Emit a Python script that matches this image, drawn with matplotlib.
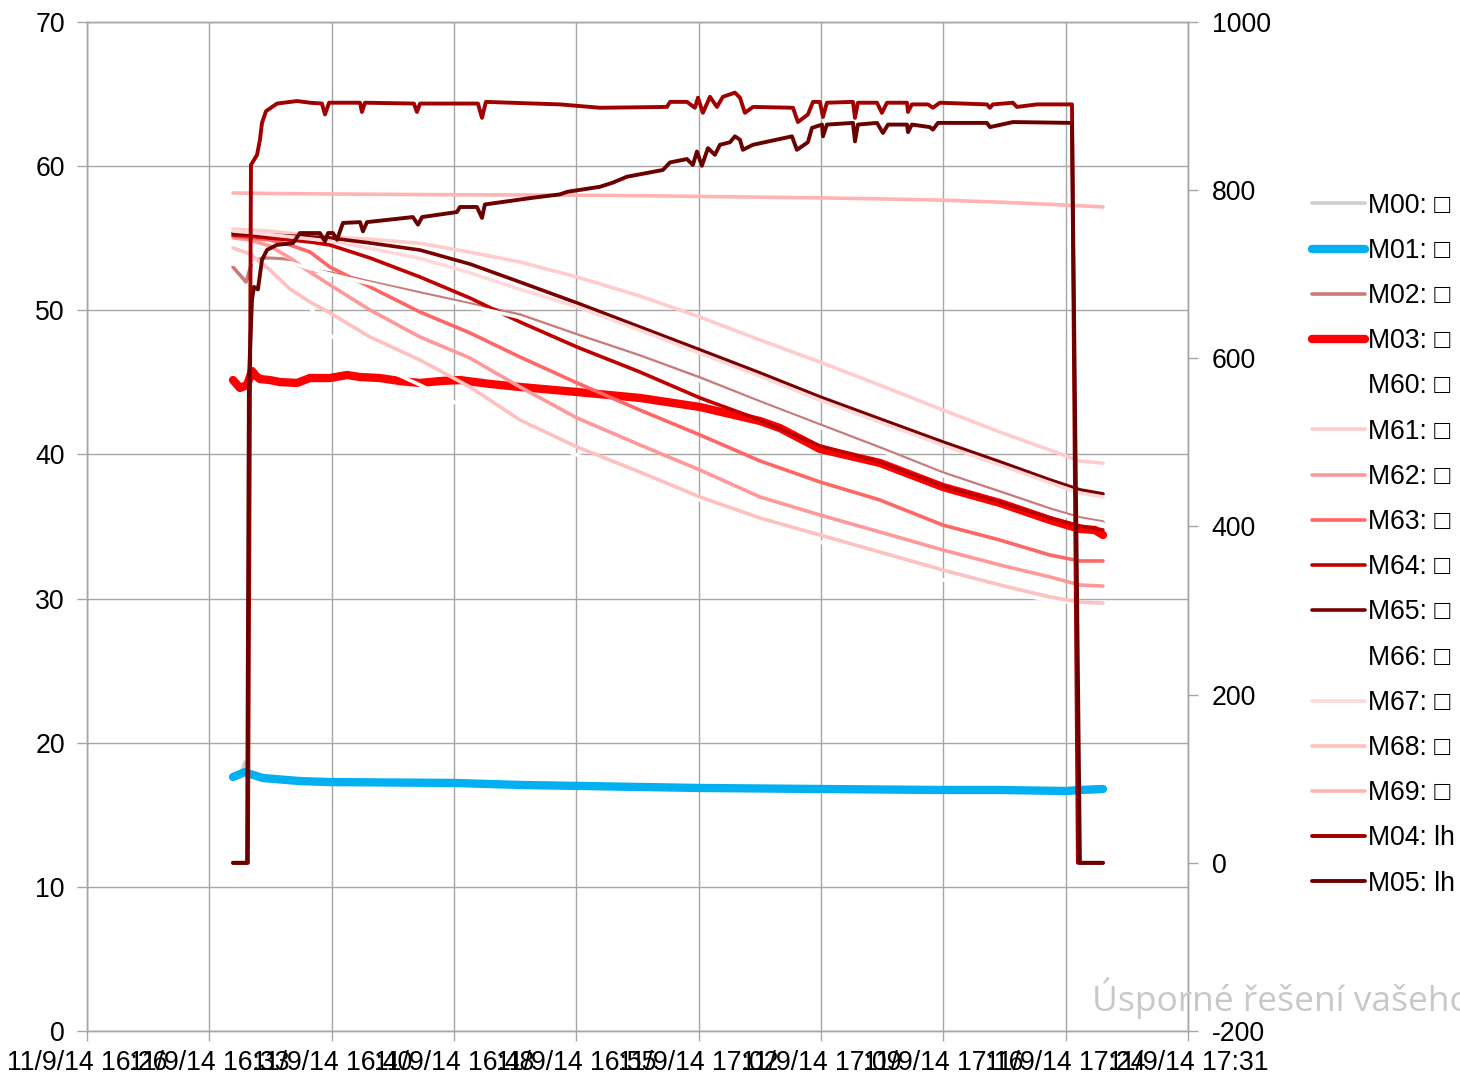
import numpy as np
import matplotlib
matplotlib.use("Agg")
import matplotlib.pyplot as plt

plt.rcParams['font.family'] = ['Liberation Sans', 'DejaVu Sans']
plt.rcParams['axes.unicode_minus'] = False

# osa x: minuty od 11/9/14 16:26
tick_labels = ["11/9/14 16:26", "11/9/14 16:33", "11/9/14 16:40", "11/9/14 16:48",
               "11/9/14 16:55", "11/9/14 17:02", "11/9/14 17:09", "11/9/14 17:16",
               "11/9/14 17:24", "11/9/14 17:31"]

# spolecna casova osa pro vetsinu teplot
t_base = [8.62, 9.62, 10.80, 11.98, 13.16, 14.34, 16.71, 19.66, 22.61, 25.56, 28.93,
          32.64, 36.19, 39.73, 43.27, 46.81, 50.53, 53.90, 56.85, 58.62, 59.98]

# M00 a M01 (levá osa)
t_m00 = [8.62, 9.03, 9.33, 9.62, 10.39, 14.34, 36.19, 59.98]
m00 = [17.6, 17.7, 18.66, 17.8, 17.5, 17.2, 16.8, 16.7]

t_m01 = [8.62, 9.33, 9.62, 10.39, 12.57, 14.34, 21.61, 25.56, 36.19, 43.27, 50.53,
         53.90, 57.79, 58.62, 59.98]
m01 = [17.62, 17.97, 17.83, 17.55, 17.34, 17.27, 17.21, 17.07, 16.86, 16.79, 16.72,
       16.72, 16.65, 16.72, 16.79]

t_m02 = [8.62, 9.39, 9.74, 10.39, 11.57, 13.16, 14.34, 16.71, 19.66, 22.61, 25.56,
         28.93, 32.64, 36.19, 39.73, 43.27, 46.81, 50.53, 53.90, 56.85, 58.62, 59.98]
m02 = [53.00, 51.96, 53.35, 53.63, 53.56, 52.80, 52.59, 51.96, 51.20, 50.44, 49.67,
       48.29, 46.83, 45.30, 43.64, 42.04, 40.45, 38.71, 37.39, 36.21, 35.59, 35.31]

t_m03 = [8.62, 9.03, 9.45, 9.74, 9.98, 10.21, 10.80, 11.39, 12.40, 13.16, 14.34, 15.35,
         16.12, 17.30, 18.48, 19.66, 20.84, 22.02, 23.79, 25.56, 28.93, 32.64, 36.19,
         39.73, 40.91, 43.27, 46.81, 50.53, 53.90, 56.85, 58.62, 59.50, 59.98]
m03 = [45.16, 44.61, 44.82, 45.79, 45.44, 45.23, 45.16, 45.02, 44.96, 45.30, 45.30,
       45.51, 45.37, 45.30, 45.09, 44.96, 45.09, 45.16, 44.89, 44.68, 44.33, 43.92,
       43.29, 42.32, 41.83, 40.38, 39.41, 37.74, 36.63, 35.45, 34.83, 34.76, 34.41]

m60 = [54.88, 53.84, 52.66, 51.41, 50.23, 48.29, 46.41, 44.82, 43.08, 41.56, 39.96,
       38.37, 36.84, 35.31, 33.93, 32.68, 31.29, 30.46, 29.90, 29.69, 29.55]
m61 = [55.63, 55.56, 55.49, 55.35, 55.28, 55.07, 54.93, 54.65, 54.03, 53.35, 52.31,
       50.99, 49.53, 47.94, 46.41, 44.81, 43.08, 41.55, 40.30, 39.54, 39.40]
m62 = [55.02, 54.88, 54.46, 53.63, 52.66, 51.76, 50.02, 48.15, 46.69, 44.68, 42.53,
       40.66, 38.92, 37.05, 35.80, 34.62, 33.37, 32.33, 31.50, 30.94, 30.87]
m63 = [55.15, 55.01, 54.88, 54.53, 54.05, 53.00, 51.62, 49.88, 48.43, 46.76, 44.96,
       43.08, 41.35, 39.55, 38.09, 36.84, 35.10, 34.06, 33.02, 32.61, 32.61]
m64 = [55.22, 55.15, 55.01, 54.88, 54.74, 54.53, 53.63, 52.31, 50.85, 49.19, 47.45,
       45.72, 43.92, 42.39, 40.59, 39.48, 37.81, 36.70, 35.59, 35.04, 34.76]
m65 = [55.36, 55.29, 55.22, 55.15, 55.09, 55.02, 54.67, 54.18, 53.21, 51.96, 50.51,
       48.84, 47.25, 45.65, 43.99, 42.46, 40.86, 39.48, 38.23, 37.54, 37.26]
m66 = [53.2, 53.3, 53.4, 53.3, 52.9, 52.5, 51.85, 51.05, 50.3, 49.5, 48.12,
       46.66, 45.12, 43.48, 41.88, 40.28, 38.55, 37.22, 36.05, 35.45, 35.18]
m67 = [55.5, 55.4, 55.25, 55.1, 54.95, 54.8, 54.3, 53.6, 52.6, 51.45, 50.25,
       48.62, 47.02, 45.42, 43.77, 42.24, 40.64, 39.26, 38.03, 37.33, 37.05]
m68 = [54.32, 53.91, 52.80, 51.48, 50.58, 49.82, 48.15, 46.55, 44.68, 42.39, 40.52,
       38.78, 37.05, 35.59, 34.41, 33.23, 31.98, 30.94, 30.11, 29.76, 29.69]
m69 = [58.14, 58.12, 58.10, 58.09, 58.08, 58.07, 58.05, 58.03, 58.01, 58.00, 57.98,
       57.95, 57.90, 57.85, 57.80, 57.73, 57.64, 57.50, 57.35, 57.25, 57.17]

# M04 a M05 (pravá osa)
t_m04 = [8.62, 9.50, 9.68, 10.04, 10.21, 10.33, 10.57, 11.22, 12.40, 13.16,
         13.87, 14.05, 14.29, 16.12, 16.23, 16.41, 19.30, 19.48, 19.66, 23.08,
         23.32, 23.55, 27.92, 30.28, 34.24, 34.42, 35.42, 35.89, 36.07, 36.36,
         36.78, 37.19, 37.54, 38.25, 38.55, 38.84, 39.32, 41.68, 41.97, 42.56,
         42.86, 43.27, 43.45, 43.68, 45.22, 45.34, 45.51, 46.64, 46.93, 47.23,
         48.41, 48.47, 48.70, 49.65, 49.94, 50.35, 53.13, 53.31, 53.48, 54.66,
         54.90, 56.08, 58.15, 58.50, 59.98]
m04 = [0, 0, 830, 842, 860, 880, 894, 903, 906, 904,
       903, 890, 904, 904, 893, 904, 903, 893, 903, 903,
       886, 905, 902, 898, 899, 905, 905, 898, 910, 892,
       911, 899, 911, 916, 910, 892, 899, 898, 881, 890,
       905, 905, 887, 904, 905, 886, 904, 904, 892, 904,
       904, 893, 902, 902, 898, 904, 902, 898, 902, 904,
       899, 902, 902, 0, 0]

t_m05 = [8.62, 9.45, 9.56, 9.74, 9.86, 10.09, 10.33, 10.63, 11.22, 12.16,
         12.57, 13.75, 14.05, 14.23, 14.52, 14.76, 15.11, 16.12, 16.29, 16.53,
         19.24, 19.54, 19.78, 21.84, 22.02, 23.02, 23.32, 23.49, 26.33, 27.92,
         28.34, 30.28, 31.05, 31.88, 34.00, 34.42, 35.42, 35.77, 36.01, 36.30,
         36.66, 37.07, 37.37, 37.96, 38.25, 38.55, 38.72, 39.32, 41.62, 41.91,
         42.56, 42.80, 43.39, 43.45, 43.68, 45.22, 45.34, 45.51, 46.64, 46.99,
         47.29, 48.41, 48.47, 48.70, 49.76, 49.94, 50.24, 53.13, 53.31, 54.66,
         58.15, 58.62, 59.98]
m05 = [0, 0, 575, 670, 685, 682, 717, 729, 735, 737,
       749, 749, 739, 749, 749, 741, 761, 762, 751, 762,
       768, 759, 768, 774, 780, 780, 767, 783, 791, 795,
       798, 804, 809, 816, 824, 833, 837, 830, 846, 829,
       850, 842, 854, 857, 864, 860, 848, 854, 864, 848,
       857, 874, 878, 864, 878, 880, 858, 878, 880, 868,
       878, 878, 869, 878, 875, 872, 880, 880, 875, 881,
       880, 0, 0]

left_series = [
    ("M00: \u25a1", t_m00, m00, '#d0d0d0', 2.6),
    ("M01: \u25a1", t_m01, m01, '#00b0f0', 6.0),
    ("M02: \u25a1", t_m02, m02, '#c97b7b', 2.6),
    ("M03: \u25a1", t_m03, m03, '#ff0000', 6.0),
    ("M60: \u25a1", t_base, m60, '#ffffff', 2.6),
    ("M61: \u25a1", t_base, m61, '#ffcccc', 2.6),
    ("M62: \u25a1", t_base, m62, '#ff9999', 2.6),
    ("M63: \u25a1", t_base, m63, '#ff6666', 2.6),
    ("M64: \u25a1", t_base, m64, '#c00000', 2.6),
    ("M65: \u25a1", t_base, m65, '#7a0000', 2.6),
    ("M66: \u25a1", t_base, m66, '#ffffff', 2.6),
    ("M67: \u25a1", t_base, m67, '#ffd9d9', 2.6),
    ("M68: \u25a1", t_base, m68, '#ffc0c0', 2.6),
    ("M69: \u25a1", t_base, m69, '#ffb3b3', 2.6),
]
right_series = [
    ("M04: lh", t_m04, m04, '#a00000', 2.8),
    ("M05: lh", t_m05, m05, '#6b0000', 2.8),
]

fig = plt.figure(figsize=(14.6, 10.76), dpi=100)
ax = fig.add_axes([87/1460, 45/1076, 1101/1460, 1009/1076])
ax2 = ax.twinx()

grid_c = '#a6a6a6'
handles = []
for name, t, v, c, lw in left_series:
    h, = ax.plot(t, v, color=c, lw=lw, solid_joinstyle='round',
                 solid_capstyle='round', label=name)
    handles.append(h)
for name, t, v, c, lw in right_series:
    h, = ax2.plot(t, v, color=c, lw=lw, solid_joinstyle='round',
                  solid_capstyle='round', label=name)
    handles.append(h)

ax.set_xlim(0, 65)
ax.set_ylim(0, 70)
ax.set_yticks(np.arange(0, 71, 10))
ax.set_xticks(np.linspace(0, 65, 10))
ax.set_xticklabels(tick_labels)
ax2.set_ylim(-200, 1000)
ax2.set_yticks(np.arange(-200, 1001, 200))

ax.grid(True, color=grid_c, lw=1.0)
ax.set_axisbelow(True)
for a in (ax, ax2):
    for s in a.spines.values():
        s.set_color(grid_c)
        s.set_linewidth(1.0)
    a.tick_params(colors=grid_c, labelcolor='black', labelsize=19.2, length=7, width=1.0)
ax.tick_params(axis='y', pad=9)
ax.tick_params(axis='x', pad=7)
ax2.tick_params(axis='y', pad=10)

fig.legend(handles, [h.get_label() for h in handles], loc='upper left',
           bbox_to_anchor=(1301/1460, 1 - 182/1076), frameon=False, fontsize=19.2,
           handlelength=2.0, handletextpad=0.1, labelspacing=0.72, borderaxespad=0)

fig.text(1092/1460, 1 - 1011/1076, "Úsporné řešení vašeho", fontsize=25.5,
         color='#c8c8c8', family=['Open Sans', 'DejaVu Sans'])

fig.savefig("out.png", dpi=100)
